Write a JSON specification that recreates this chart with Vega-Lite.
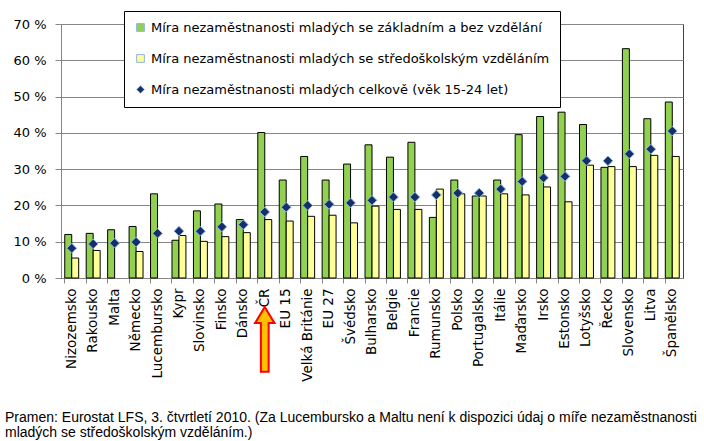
{
  "$schema": "https://vega.github.io/schema/vega-lite/v6.json",
  "width": 622,
  "height": 254,
  "autosize": {"type": "none"},
  "padding": {"left": 61, "top": 24, "right": 21, "bottom": 163},
  "background": "white",
  "config": {
    "font": "DejaVu Sans",
    "view": {"stroke": "#404040", "strokeWidth": 1},
    "axisY": {
      "title": null,
      "labelOverlap": false,
      "labelFontSize": 13,
      "labelColor": "#000000",
      "labelPadding": 9,
      "tickSize": 6,
      "tickColor": "#868686",
      "domainColor": "#868686",
      "gridColor": "#868686",
      "gridWidth": 1
    }
  },
  "title": {
    "text": ["Pramen: Eurostat LFS, 3. čtvrtletí 2010. (Za Lucembursko a Maltu není k dispozici údaj o míře nezaměstnanosti", "mladých se středoškolským vzděláním.)"],
    "orient": "bottom",
    "anchor": "start",
    "frame": "group",
    "dx": -56,
    "offset": 30,
    "font": "Liberation Sans",
    "fontSize": 14,
    "fontWeight": "normal",
    "color": "#000000",
    "lineHeight": 15
  },
  "datasets": {
    "rates": [
      {"country": "Nizozemsko", "z": 12.0, "s": 5.5, "c": 8.2},
      {"country": "Rakousko", "z": 12.3, "s": 7.6, "c": 9.4},
      {"country": "Malta", "z": 13.3, "s": null, "c": 9.6},
      {"country": "Německo", "z": 14.2, "s": 7.3, "c": 9.9},
      {"country": "Lucembursko", "z": 23.2, "s": null, "c": 12.3},
      {"country": "Kypr", "z": 10.4, "s": 11.7, "c": 12.9},
      {"country": "Slovinsko", "z": 18.5, "s": 10.1, "c": 12.9},
      {"country": "Finsko", "z": 20.4, "s": 11.4, "c": 14.1},
      {"country": "Dánsko", "z": 16.1, "s": 12.5, "c": 14.7},
      {"country": "ČR", "z": 40.1, "s": 16.1, "c": 18.2},
      {"country": "EU 15", "z": 27.0, "s": 15.7, "c": 19.5},
      {"country": "Velká Británie", "z": 33.5, "s": 17.0, "c": 20.0},
      {"country": "EU 27", "z": 27.0, "s": 17.3, "c": 20.3},
      {"country": "Švédsko", "z": 31.4, "s": 15.2, "c": 20.7},
      {"country": "Bulharsko", "z": 36.7, "s": 19.8, "c": 21.4},
      {"country": "Belgie", "z": 33.3, "s": 18.9, "c": 22.3},
      {"country": "Francie", "z": 37.4, "s": 18.9, "c": 22.3},
      {"country": "Rumunsko", "z": 16.7, "s": 24.5, "c": 22.9},
      {"country": "Polsko", "z": 27.0, "s": 23.2, "c": 23.4},
      {"country": "Portugalsko", "z": 22.6, "s": 22.6, "c": 23.4},
      {"country": "Itálie", "z": 27.0, "s": 23.2, "c": 24.5},
      {"country": "Maďarsko", "z": 39.5, "s": 22.9, "c": 26.6},
      {"country": "Irsko", "z": 44.5, "s": 25.1, "c": 27.6},
      {"country": "Estonsko", "z": 45.7, "s": 21.0, "c": 28.0},
      {"country": "Lotyšsko", "z": 42.3, "s": 31.1, "c": 32.3},
      {"country": "Řecko", "z": 30.5, "s": 30.7, "c": 32.3},
      {"country": "Slovensko", "z": 63.2, "s": 30.7, "c": 34.2},
      {"country": "Litva", "z": 43.9, "s": 33.8, "c": 35.5},
      {"country": "Španělsko", "z": 48.5, "s": 33.5, "c": 40.5}
    ],
    "arrow": [{"country": "ČR", "pos": -16.9}]
  },
  "data": {"name": "rates"},
  "transform": [
    {"fold": ["z", "s", "c"], "as": ["series", "value"]},
    {"filter": "isValid(datum.value)"}
  ],
  "encoding": {
    "x": {
      "field": "country",
      "type": "nominal",
      "sort": null,
      "scale": {"paddingInner": 0.35, "paddingOuter": 0.175},
      "axis": {
        "title": null,
        "labelAngle": -90,
        "labelFontSize": 13.5,
        "labelColor": "#000000",
        "labelPadding": 5,
        "bandPosition": 0,
        "labelOffset": 0,
        "tickSize": 5,
        "tickColor": "#868686",
        "domainColor": "#868686",
        "grid": false
      }
    }
  },
  "layer": [
    {
      "transform": [{"filter": "datum.series != 'c'"}],
      "mark": {"type": "bar", "stroke": "#000000", "strokeWidth": 1},
      "encoding": {
        "xOffset": {"field": "series", "type": "nominal", "scale": {"domain": ["z", "s"]}},
        "y": {
          "field": "value",
          "type": "quantitative",
          "scale": {"domain": [0, 70], "nice": false},
          "axis": {"values": [0, 10, 20, 30, 40, 50, 60, 70], "labelExpr": "datum.value + ' %'"}
        },
        "color": {
          "field": "series",
          "type": "nominal",
          "scale": {"domain": ["z", "s", "c"], "range": ["#92D050", "#FFFF99", "#14306B"]},
          "legend": {
            "title": null,
            "orient": "none",
            "legendX": 63,
            "legendY": -13,
            "fillColor": "white",
            "strokeColor": "#000000",
            "padding": 10,
            "rowPadding": 17,
            "labelFontSize": 13,
            "labelColor": "#000000",
            "labelLimit": 600,
            "symbolSize": 60,
            "symbolStrokeColor": "#000000",
            "symbolStrokeWidth": 1,
            "labelExpr": "datum.label == 'z' ? 'Míra nezaměstnanosti mladých se základním a bez vzdělání\u00a0\u00a0\u00a0' : datum.label == 's' ? 'Míra nezaměstnanosti mladých se středoškolským vzděláním' : 'Míra nezaměstnanosti mladých celkově (věk 15-24 let)'"
          }
        }
      }
    },
    {
      "transform": [{"filter": "datum.series == 'c'"}],
      "mark": {"type": "point", "filled": true, "size": 95, "stroke": "#8FB4E3", "strokeWidth": 1, "opacity": 1},
      "encoding": {
        "y": {"field": "value", "type": "quantitative", "axis": {"values": [0, 10, 20, 30, 40, 50, 60, 70], "labelExpr": "datum.value + ' %'"}},
        "color": {"field": "series", "type": "nominal"},
        "shape": {"field": "series", "type": "nominal", "scale": {"domain": ["z", "s", "c"], "range": ["square", "square", "diamond"]}}
      }
    },
    {
      "data": {"name": "arrow"},
      "mark": {"type": "point", "filled": true, "shape": "M0,-1 L0.3,-0.5 L0.12,-0.5 L0.12,1 L-0.12,1 L-0.12,-0.5 L-0.3,-0.5 Z", "size": 4200, "fill": "#FFC000", "stroke": "#FF0000", "strokeWidth": 2, "opacity": 1},
      "encoding": {
        "y": {"field": "pos", "type": "quantitative", "axis": {"values": [0, 10, 20, 30, 40, 50, 60, 70], "labelExpr": "datum.value + ' %'"}}
      }
    }
  ]
}
